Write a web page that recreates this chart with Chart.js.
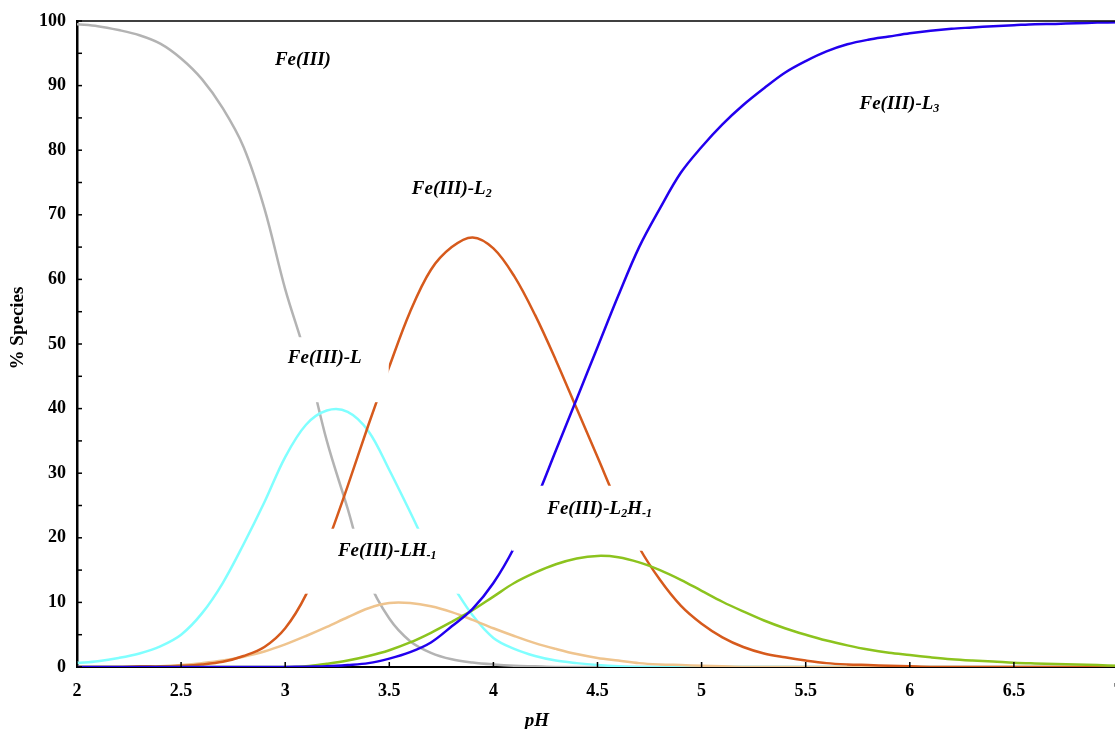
<!DOCTYPE html>
<html>
<head>
<meta charset="utf-8">
<script src="https://cdn.jsdelivr.net/npm/chart.js@4.4.1/dist/chart.umd.min.js"></script>
<style>
  html,body{margin:0;padding:0;background:#fff;overflow:hidden;}
  #wrap{width:1130px;height:729px;}
</style>
</head>
<body>
<div id="wrap"><canvas id="species-chart" width="1130" height="729"></canvas></div>
<script>
/* speciation data, % of Fe(III) vs pH */
var pH = [2.0,2.1,2.2,2.3,2.4,2.5,2.6,2.7,2.8,2.9,3.0,3.1,3.2,3.3,3.4,3.5,3.6,3.7,3.8,3.9,
          4.0,4.1,4.2,4.3,4.4,4.5,4.6,4.7,4.8,4.9,5.0,5.1,5.2,5.3,5.4,5.5,5.6,5.7,5.8,5.9,
          6.0,6.1,6.2,6.3,6.4,6.5,6.6,6.7,6.8,6.9,7.0];

var feFree = [99.5,99.2,98.6,97.8,96.5,94.2,91.0,86.5,80.5,71.0,58.5,48.0,35.0,24.5,13.5,7.5,4.0,2.2,1.2,0.7,
              0.4,0.2,0.1,0,0,0,0,0,0,0,0,0,0,0,0,0,0,0,0,0,
              0,0,0,0,0,0,0,0,0,0,0];
var feL = [0.6,0.9,1.4,2.1,3.2,5.0,8.3,13.0,19.0,25.5,32.5,37.5,39.7,39.5,36.5,30.5,24.0,17.5,12.8,8.0,
           4.5,2.8,1.7,1.0,0.6,0.3,0.1,0,0,0,0,0,0,0,0,0,0,0,0,0,
           0,0,0,0,0,0,0,0,0,0,0];
var feL2 = [0,0,0,0.1,0.1,0.2,0.4,0.8,1.7,3.1,6.0,11.2,19.0,28.0,37.5,46.5,55.0,61.5,65.0,66.5,
            64.8,60.5,54.5,47.5,40.0,32.5,25.0,18.5,13.5,9.5,6.7,4.6,3.1,2.1,1.5,1.0,0.6,0.4,0.3,0.2,
            0.1,0,0,0,0,0,0,0,0,0,0];
var feLH = [0,0,0,0.05,0.1,0.3,0.6,1.0,1.6,2.4,3.5,4.8,6.2,7.7,9.1,9.9,9.9,9.4,8.5,7.3,
            6.0,4.8,3.7,2.8,2.0,1.4,1.0,0.6,0.4,0.3,0.2,0.1,0,0,0,0,0,0,0,0,
            0,0,0,0,0,0,0,0,0,0,0];
var feL2H = [0,0,0,0,0,0,0,0,0,0,0,0.1,0.5,1.0,1.7,2.6,3.8,5.3,7.0,8.8,
             10.9,13.0,14.6,15.9,16.8,17.2,17.0,16.2,15.0,13.5,11.8,10.1,8.6,7.2,6.0,5.0,4.1,3.35,2.7,2.2,
             1.85,1.5,1.2,1.0,0.85,0.67,0.55,0.45,0.38,0.3,0.2];
var feL3 = [0,0,0,0,0,0,0,0,0,0,0,0.05,0.1,0.3,0.6,1.3,2.3,3.8,6.3,9.0,
            13.0,18.5,25.5,33.5,41.5,49.5,57.5,65.0,71.0,76.5,80.5,84.0,87.0,89.6,92.0,93.8,95.3,96.4,97.1,97.6,
            98.1,98.5,98.8,99.0,99.2,99.35,99.5,99.55,99.65,99.75,99.8];

var yTicks = [0,10,20,30,40,50,60,70,80,90,100];

function pts(vals){
  return vals.map(function(v,i){ return {x:pH[i], y:v}; });
}

/* curve labels: text pieces [text, isSubscript], anchored at (pH, %) */
var curveLabels = [
  {parts:[['Fe(III)',0]], at:[3.085,94.0]},
  {parts:[['Fe(III)-L',0],['2',1]], at:[3.80,74.0]},
  {parts:[['Fe(III)-L',0],['3',1]], at:[5.95,87.2]},
  {parts:[['Fe(III)-L',0]], at:[3.19,47.8], box:[-66,-21,64,44]},
  {parts:[['Fe(III)-LH',0],['-1',1]], at:[3.49,18.0], box:[-85,-22,84,43]},
  {parts:[['Fe(III)-L',0],['2',1],['H',0],['-1',1]], at:[4.51,24.5], box:[-88,-23,90,42]}
];

var FONT_MAIN = 'italic bold 19px "Liberation Serif", "Times New Roman", serif';
var FONT_SUB  = 'italic bold 12px "Liberation Serif", "Times New Roman", serif';

var decorPlugin = {
  id:'decor',
  afterDatasetsDraw:function(chart){
    var ctx = chart.ctx, xs = chart.scales.x, ys = chart.scales.y, a = chart.chartArea;
    ctx.save();
    // top frame line
    ctx.strokeStyle = '#000';
    ctx.lineWidth = 1.5;
    ctx.beginPath(); ctx.moveTo(a.left, a.top); ctx.lineTo(a.right, a.top); ctx.stroke();
    // inside ticks
    for(var v=0; v<=100; v+=5){
      var py = ys.getPixelForValue(v);
      ctx.beginPath(); ctx.moveTo(a.left, py); ctx.lineTo(a.left+5, py); ctx.stroke();
    }
    for(var p=2; p<=7.001; p+=0.5){
      var px = xs.getPixelForValue(p);
      ctx.beginPath(); ctx.moveTo(px, a.bottom); ctx.lineTo(px, a.bottom-5); ctx.stroke();
    }
    // curve labels with white boxes
    curveLabels.forEach(function(l){
      var cx = xs.getPixelForValue(l.at[0]), cy = ys.getPixelForValue(l.at[1]);
      if(l.box){
        ctx.fillStyle = '#fff';
        ctx.fillRect(cx+l.box[0], cy+l.box[1], l.box[2]-l.box[0], l.box[3]-l.box[1]);
      }
      var w = 0;
      l.parts.forEach(function(pt){ ctx.font = pt[1] ? FONT_SUB : FONT_MAIN; w += ctx.measureText(pt[0]).width; });
      var x = cx - w/2;
      ctx.fillStyle = '#000';
      ctx.textBaseline = 'middle';
      ctx.textAlign = 'left';
      l.parts.forEach(function(pt){
        ctx.font = pt[1] ? FONT_SUB : FONT_MAIN;
        ctx.fillText(pt[0], x, pt[1] ? cy+5 : cy);
        x += ctx.measureText(pt[0]).width;
      });
    });
    // axis titles
    ctx.fillStyle = '#000';
    ctx.font = 'bold 19px "Liberation Serif", "Times New Roman", serif';
    ctx.textAlign = 'center';
    ctx.textBaseline = 'middle';
    ctx.save();
    ctx.translate(18, 328);
    ctx.rotate(-Math.PI/2);
    ctx.fillText('% Species', 0, 0);
    ctx.restore();
    ctx.font = 'italic bold 19px "Liberation Serif", "Times New Roman", serif';
    ctx.fillText('pH', 537, 721);
    ctx.restore();
  }
};

function line(vals, color){
  return {
    data:pts(vals),
    borderColor:color,
    backgroundColor:color,
    borderWidth:2.5,
    pointRadius:0,
    tension:0.35,
    fill:false
  };
}

var tickFont = {family:'"Liberation Serif", "Times New Roman", serif', size:18, weight:'bold'};

new Chart(document.getElementById('species-chart'), {
  type:'line',
  data:{
    datasets:[
      line(feL3, '#2200EE'),
      line(feL2H, '#8CC31E'),
      line(feL2, '#D65A1C'),
      line(feLH, '#EFC48E'),
      line(feL, '#80FFFF'),
      line(feFree, '#B3B3B3')
    ]
  },
  options:{
    responsive:false,
    animation:false,
    devicePixelRatio:1,
    layout:{padding:{top:21,right:12,left:0,bottom:0}},
    plugins:{legend:{display:false},tooltip:{enabled:false}},
    scales:{
      x:{
        type:'linear', min:2, max:7,
        afterFit:function(s){ s.height = 62; s.paddingLeft = 0; s.paddingRight = 0; },
        grid:{display:false, drawTicks:false},
        border:{display:true, color:'#000', width:2},
        ticks:{stepSize:0.5, color:'#000', font:tickFont, padding:14, maxRotation:0, autoSkip:false,
               callback:function(v){ return String(Math.round(v*10)/10); }}
      },
      y:{
        min:0, max:100,
        afterFit:function(s){ s.width = 77; s.paddingTop = 0; s.paddingBottom = 0; },
        afterBuildTicks:function(s){ s.ticks = yTicks.map(function(v){ return {value:v}; }); },
        grid:{display:false, drawTicks:false},
        border:{display:true, color:'#000', width:2.5},
        ticks:{color:'#000', font:tickFont, padding:11}
      }
    }
  },
  plugins:[decorPlugin]
});
</script>
</body>
</html>
